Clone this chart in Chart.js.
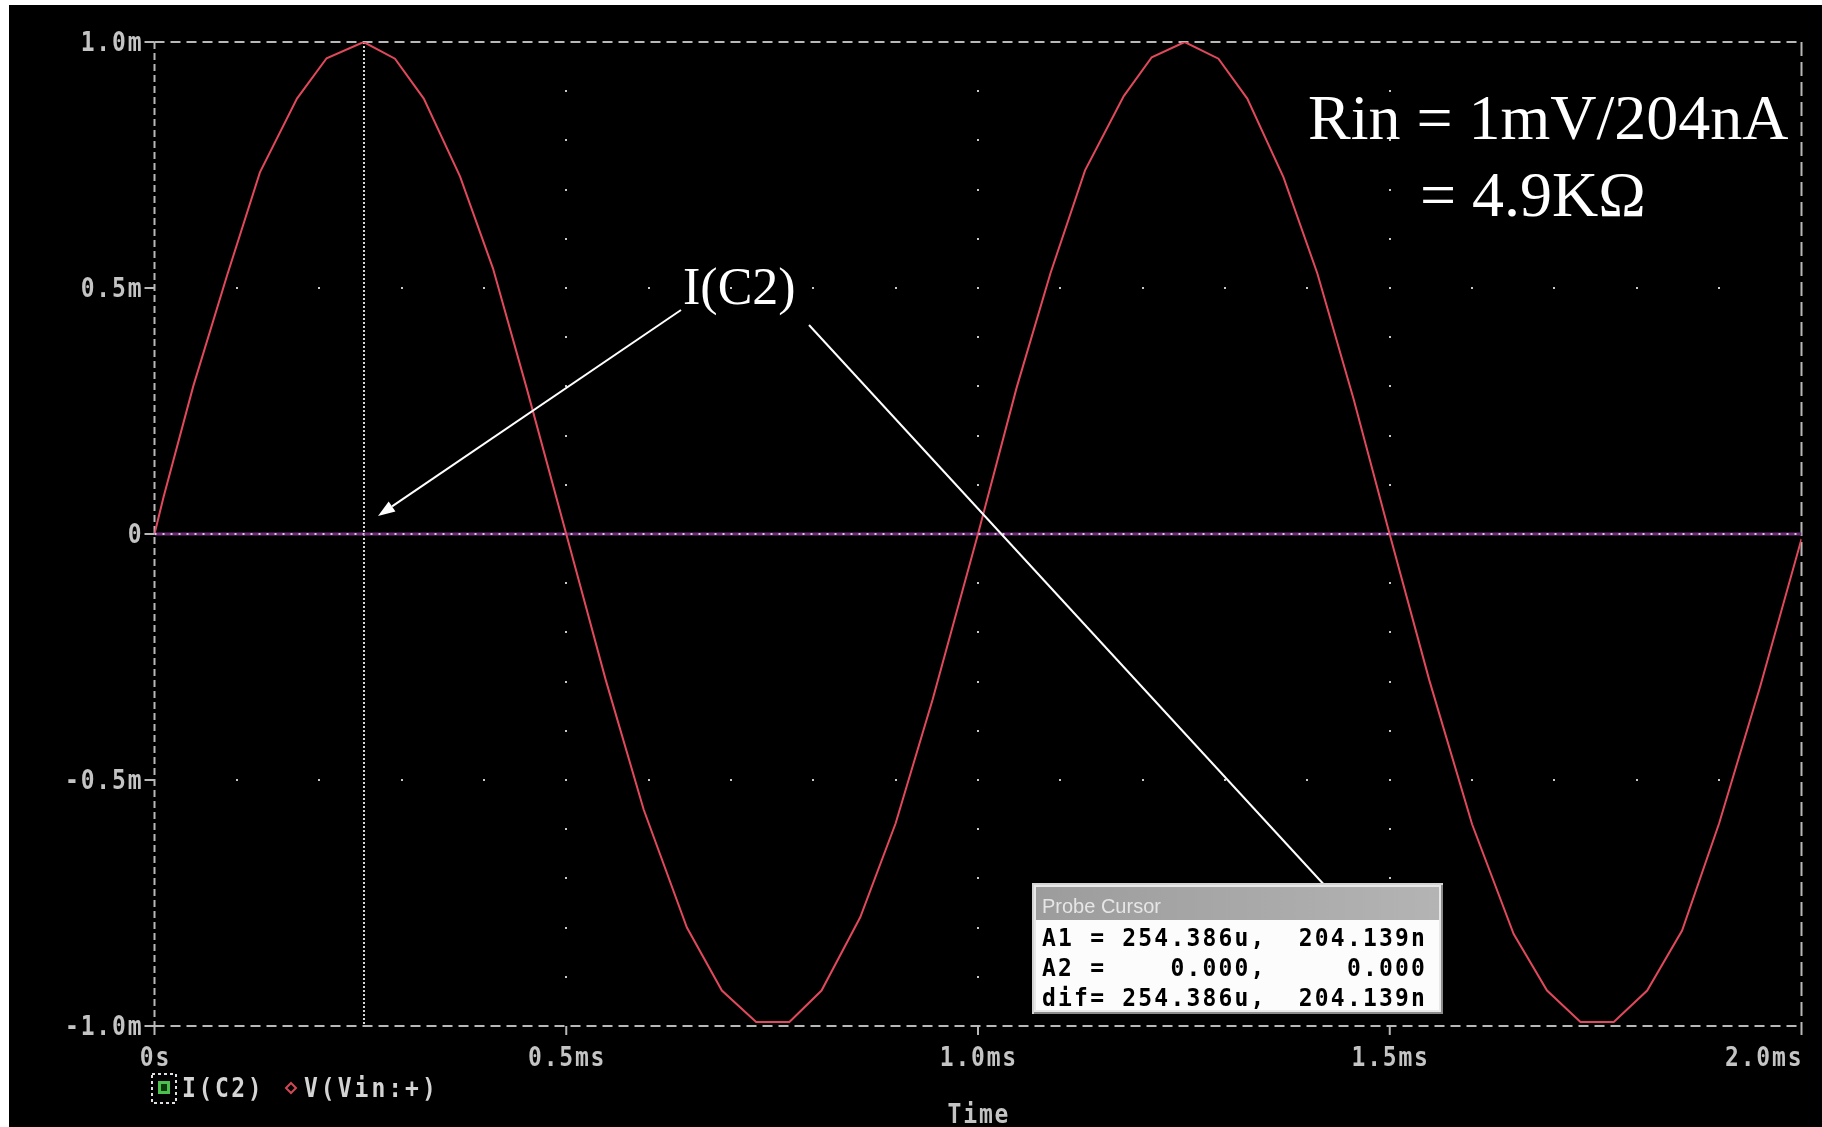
<!DOCTYPE html>
<html>
<head>
<meta charset="utf-8">
<title>Transient: V(Vin:+) and I(C2)</title>
<script src="https://cdn.jsdelivr.net/npm/chart.js@4/dist/chart.umd.min.js"></script>
<style>
  html, body { margin: 0; padding: 0; background: #ffffff; }
  #wrap { position: absolute; left: 0; top: 0; width: 1822px; height: 1127px; }
  canvas { display: block; }
</style>
</head>
<body>
<div id="wrap"><canvas id="probe" width="1822" height="1127"></canvas></div>
<script>
// Simulation time points (ms) and input voltage V(Vin:+) in milli-units
const timeMs = [0, 0.011, 0.047, 0.088, 0.128, 0.173, 0.209, 0.254, 0.292, 0.327, 0.371, 0.411, 0.452, 0.500,
  0.548, 0.594, 0.6465, 0.689, 0.7306, 0.771, 0.810, 0.857, 0.900, 0.945,
  1.000, 1.047, 1.088, 1.130, 1.177, 1.211, 1.251, 1.292, 1.327, 1.371, 1.412, 1.456, 1.499,
  1.548, 1.600, 1.6505, 1.691, 1.7316, 1.772, 1.8126, 1.855, 1.900, 1.950, 2.000];
const vinMilli = [0, 0.075, 0.300, 0.525, 0.735, 0.885, 0.967, 1.000, 0.966, 0.885, 0.727, 0.540, 0.296, 0.000,
  -0.297, -0.560, -0.800, -0.928, -0.992, -0.992, -0.928, -0.779, -0.588, -0.336,
  0.000, 0.298, 0.530, 0.739, 0.890, 0.969, 1.000, 0.966, 0.885, 0.725, 0.530, 0.275, 0.005,
  -0.297, -0.590, -0.813, -0.928, -0.992, -0.992, -0.928, -0.806, -0.588, -0.309, -0.010];

// Capacitor current I(C2) in milli-units (peak 204.139n)
const ic2Time = [0, 0.254386, 0.5, 0.75, 1.0, 1.25, 1.5, 1.75, 2.0];
const ic2Milli = [0, 0.000204139, 0, -0.000204, 0, 0.000204, 0, -0.000204, 0];

// Axis ticks
const xTickValues = [0, 0.5, 1.0, 1.5, 2.0];
const xTickLabels = ['0s', '0.5ms', '1.0ms', '1.5ms', '2.0ms'];
const yTickValues = [1, 0.5, 0, -0.5, -1];
const yTickLabels = ['1.0m', '0.5m', '0', '-0.5m', '-1.0m'];

const traceNames = ['I(C2)', 'V(Vin:+)'];
const cursorA1 = [0.254386, 0.000204139];
const cursorTitle = 'Probe Cursor';
const cursorRows = ['A1 = 254.386u,  204.139n', 'A2 =    0.000,     0.000', 'dif= 254.386u,  204.139n'];
const noteLines = ['Rin = 1mV/204nA', '= 4.9K\u03A9'];
const noteTrace = 'I(C2)';
const axisTitle = 'Time';

const MONO = '"DejaVu Sans Mono", "Liberation Mono", monospace';

// Monospace text with extra tracking, stretched slightly taller like a pixel font
function drawSpaced(ctx, text, x, y, align, ls, stretch) {
  const sy = stretch || 1;
  const chars = Array.from(text);
  const widths = chars.map(c => ctx.measureText(c).width);
  const total = widths.reduce((a, b) => a + b, 0) + ls * (chars.length - 1);
  let cx = align === 'right' ? x - total : align === 'center' ? x - total / 2 : x;
  ctx.save();
  ctx.translate(0, y);
  ctx.scale(1, sy);
  ctx.textAlign = 'left';
  chars.forEach((c, i) => { ctx.fillText(c, cx, 0); cx += widths[i] + ls; });
  ctx.restore();
}

function arrow(ctx, x0, y0, x1, y1) {
  const a = Math.atan2(y1 - y0, x1 - x0);
  const len = 17, half = 6;
  const bx = x1 - len * Math.cos(a), by = y1 - len * Math.sin(a);
  ctx.beginPath();
  ctx.moveTo(x0, y0);
  ctx.lineTo(bx, by);
  ctx.stroke();
  ctx.beginPath();
  ctx.moveTo(x1, y1);
  ctx.lineTo(bx + half * Math.sin(a), by - half * Math.cos(a));
  ctx.lineTo(bx - half * Math.sin(a), by + half * Math.cos(a));
  ctx.closePath();
  ctx.fill();
}

const probePlugin = {
  id: 'probeDecor',
  beforeDraw(chart) {
    const ctx = chart.ctx;
    ctx.save();
    ctx.fillStyle = '#ffffff';
    ctx.fillRect(0, 0, chart.width, chart.height);
    ctx.fillStyle = '#000000';
    ctx.fillRect(9, 5, chart.width - 9, chart.height - 5);
    ctx.restore();
  },
  beforeDatasetsDraw(chart) {
    const ctx = chart.ctx;
    const xs = chart.scales.x, ys = chart.scales.y;
    const L = xs.getPixelForValue(0), R = xs.getPixelForValue(2);
    const T = ys.getPixelForValue(1), B = ys.getPixelForValue(-1);
    ctx.save();

    // dotted grid: rows at +/-0.5m, columns at interior time ticks
    ctx.fillStyle = '#c8c8c8';
    [0.5, -0.5].forEach(v => {
      const py = ys.getPixelForValue(v);
      for (let k = 1; k < 20; k++) {
        const px = xs.getPixelForValue(k * 0.1);
        ctx.fillRect(Math.round(px) - 1, Math.round(py) - 1, 2, 2);
      }
    });
    [0.5, 1.0, 1.5].forEach(t => {
      const px = xs.getPixelForValue(t);
      for (let k = -9; k <= 9; k++) {
        if (k === 0) continue;
        const py = ys.getPixelForValue(k * 0.1);
        ctx.fillRect(Math.round(px) - 1, Math.round(py) - 1, 2, 2);
      }
    });

    // dashed plot frame
    ctx.strokeStyle = '#b8b8b8';
    ctx.lineWidth = 2;
    ctx.setLineDash([10, 6]);
    ctx.beginPath(); ctx.moveTo(L, T); ctx.lineTo(R, T); ctx.stroke();
    ctx.beginPath(); ctx.moveTo(L, B); ctx.lineTo(R, B); ctx.stroke();
    ctx.setLineDash([7, 4]);
    ctx.beginPath(); ctx.moveTo(L, T); ctx.lineTo(L, B); ctx.stroke();
    ctx.setLineDash([14, 6]);
    ctx.beginPath(); ctx.moveTo(R, T); ctx.lineTo(R, B); ctx.stroke();
    ctx.setLineDash([]);

    // tick marks
    yTickValues.forEach(v => {
      const py = ys.getPixelForValue(v);
      ctx.beginPath(); ctx.moveTo(L - 10, py); ctx.lineTo(L, py); ctx.stroke();
    });
    xTickValues.forEach(t => {
      const px = xs.getPixelForValue(t);
      ctx.beginPath(); ctx.moveTo(px, B); ctx.lineTo(px, B + 9); ctx.stroke();
    });

    // cursor A1
    const cx = xs.getPixelForValue(cursorA1[0]);
    ctx.strokeStyle = '#d8d8d8';
    ctx.lineWidth = 2;
    ctx.setLineDash([2, 2]);
    ctx.beginPath(); ctx.moveTo(cx, T); ctx.lineTo(cx, B); ctx.stroke();
    ctx.setLineDash([]);
    ctx.restore();
  },
  afterDatasetsDraw(chart) {
    const ctx = chart.ctx;
    const xs = chart.scales.x, ys = chart.scales.y;
    const L = xs.getPixelForValue(0), R = xs.getPixelForValue(2);
    const B = ys.getPixelForValue(-1);
    ctx.save();

    // dotted zero row over the current trace
    const zy = ys.getPixelForValue(0);
    ctx.strokeStyle = '#dcc8e2';
    ctx.lineWidth = 2;
    ctx.setLineDash([2, 6]);
    ctx.beginPath(); ctx.moveTo(L, zy); ctx.lineTo(R, zy); ctx.stroke();
    ctx.setLineDash([]);

    // tick labels
    ctx.fillStyle = '#c4c4c4';
    ctx.font = 'bold 23px ' + MONO;
    ctx.textBaseline = 'alphabetic';
    yTickValues.forEach((v, i) => {
      const py = ys.getPixelForValue(v);
      drawSpaced(ctx, yTickLabels[i], L - 13, py + 9, 'right', 1.8, 1.12);
    });
    xTickValues.forEach((t, i) => {
      const px = xs.getPixelForValue(t);
      const align = i === xTickValues.length - 1 ? 'right' : 'center';
      drawSpaced(ctx, xTickLabels[i], px, B + 40, align, 1.8, 1.12);
    });
    drawSpaced(ctx, axisTitle, (L + R) / 2, B + 97, 'center', 1.8, 1.12);

    // trace legend
    ctx.strokeStyle = '#e0e0e0';
    ctx.lineWidth = 2;
    ctx.setLineDash([3, 3]);
    ctx.strokeRect(152, 1074, 24, 29);
    ctx.setLineDash([]);
    ctx.fillStyle = '#4cc04c';
    ctx.fillRect(158, 1081, 12, 13);
    ctx.fillStyle = '#0c3a0c';
    ctx.fillRect(161, 1084, 6, 7);
    ctx.fillStyle = '#d4d4d4';
    ctx.font = 'bold 23px ' + MONO;
    drawSpaced(ctx, traceNames[0], 182, 1097, 'left', 2.6, 1.12);
    ctx.strokeStyle = '#d04858';
    ctx.lineWidth = 2;
    ctx.beginPath();
    ctx.moveTo(291, 1083); ctx.lineTo(296, 1088); ctx.lineTo(291, 1093); ctx.lineTo(286, 1088); ctx.closePath();
    ctx.stroke();
    drawSpaced(ctx, traceNames[1], 304, 1097, 'left', 3.0, 1.12);

    // annotations
    ctx.fillStyle = '#ffffff';
    ctx.strokeStyle = '#ffffff';
    ctx.font = '64px "Liberation Serif", "Times New Roman", serif';
    ctx.textAlign = 'left';
    ctx.fillText(noteLines[0], 1308, 139);
    ctx.fillText(noteLines[1], 1420, 216);
    ctx.font = '52px "Liberation Serif", "Times New Roman", serif';
    ctx.fillText(noteTrace, 683, 304);
    ctx.lineWidth = 2;
    arrow(ctx, 681, 310, 378, 516);
    arrow(ctx, 809, 325, 1351, 914);

    // probe cursor window
    const bx = 1032, by = 883, bw = 411, bh = 131;
    ctx.fillStyle = '#d4d4d4';
    ctx.fillRect(bx, by, bw, bh);
    ctx.fillStyle = '#8a8a8a';
    ctx.fillRect(bx + 2, by + 2, bw - 2, bh - 2);
    ctx.fillStyle = '#e8e8e8';
    ctx.fillRect(bx + 2, by + 2, bw - 4, bh - 4);
    const g = ctx.createLinearGradient(bx + 4, 0, bx + bw - 4, 0);
    g.addColorStop(0, '#9c9c9c');
    g.addColorStop(1, '#b4b4b4');
    ctx.fillStyle = g;
    ctx.fillRect(bx + 4, by + 4, bw - 8, 33);
    ctx.fillStyle = '#fcfcfc';
    ctx.fillRect(bx + 4, by + 37, bw - 8, bh - 41);
    ctx.fillStyle = '#e6e6e6';
    ctx.font = '20px "Liberation Sans", Arial, sans-serif';
    ctx.fillText(cursorTitle, bx + 10, by + 30);
    ctx.fillStyle = '#000000';
    ctx.font = 'bold 23px ' + MONO;
    cursorRows.forEach((row, i) => {
      drawSpaced(ctx, row, bx + 10, by + 63 + i * 30, 'left', 2.2, 1.1);
    });
    ctx.restore();
  }
};

const vinPoints = timeMs.map((t, i) => ({ x: t, y: vinMilli[i] }));
const ic2Points = ic2Time.map((t, i) => ({ x: t, y: ic2Milli[i] }));

new Chart(document.getElementById('probe'), {
  type: 'scatter',
  data: {
    datasets: [
      { label: traceNames[0], data: ic2Points, showLine: true, borderColor: '#6c2c76', borderWidth: 3,
        pointRadius: 0, tension: 0, order: 2 },
      { label: traceNames[1], data: vinPoints, showLine: true, borderColor: '#e0485c', borderWidth: 2,
        pointRadius: 0, tension: 0, order: 1 }
    ]
  },
  options: {
    responsive: false,
    animation: false,
    devicePixelRatio: 1,
    events: [],
    layout: { padding: { left: 154.5, right: 20.5, top: 42, bottom: 101 } },
    plugins: { legend: { display: false }, tooltip: { enabled: false } },
    scales: {
      x: { type: 'linear', min: 0, max: 2, display: false },
      y: { type: 'linear', min: -1, max: 1, display: false }
    }
  },
  plugins: [probePlugin]
});
</script>
</body>
</html>
